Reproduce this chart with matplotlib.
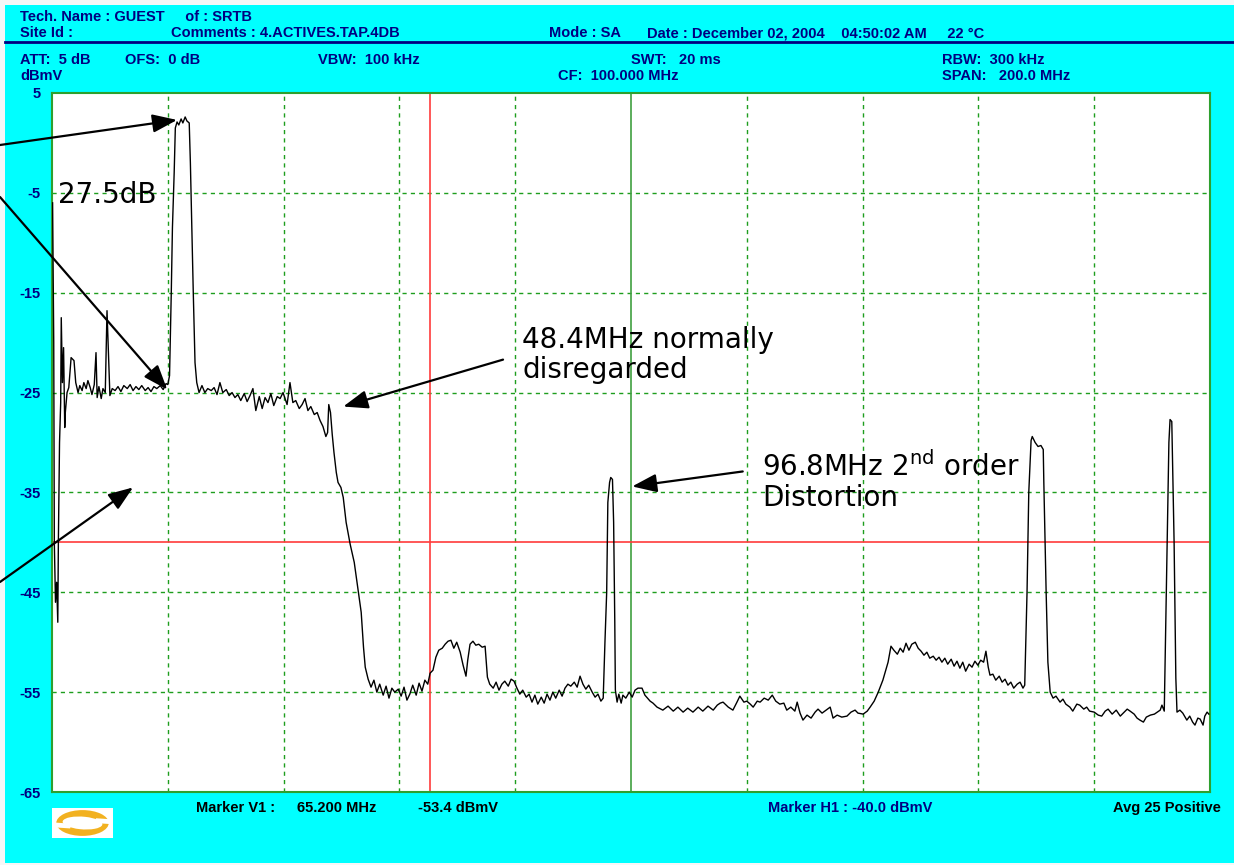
import matplotlib
matplotlib.use("Agg")
import matplotlib.pyplot as plt
import matplotlib.patches as patches

# trace (frequency in MHz, level in dBmV)
trace_mhz = [
    0.1, 0.3, 0.4, 0.6, 0.8, 1.0, 1.1, 1.3, 1.5, 1.6, 1.8, 2.0, 2.2, 2.3, 2.6, 2.9,
    3.3, 3.8, 4.1, 4.5, 4.8, 5.2, 5.5, 5.9, 6.2, 6.6, 6.9, 7.3, 7.6, 7.8, 8.1, 8.5,
    8.8, 9.2, 9.5, 9.8, 10.0, 10.4, 10.9, 11.4, 11.9, 12.4, 13.0, 13.5, 14.0, 14.5,
    15.0, 15.5, 16.1, 16.6, 17.1, 17.6, 18.1, 18.7, 19.2, 19.7, 20.0, 20.3, 20.6,
    20.8, 21.1, 21.3, 21.6, 21.9, 22.3, 22.6, 23.0, 23.3, 23.7, 23.9, 24.2, 24.4,
    24.7, 25.0, 25.4, 25.9, 26.4, 26.9, 27.5, 28.0, 28.5, 29.0, 29.5, 30.1, 30.6,
    31.1, 31.6, 32.1, 32.6, 33.2, 33.7, 34.2, 34.7, 35.2, 35.8, 36.3, 36.8, 37.3,
    37.8, 38.3, 38.9, 39.4, 39.9, 40.6, 41.1, 41.6, 42.1, 42.7, 43.2, 43.7, 44.2,
    44.7, 45.3, 45.8, 46.3, 46.8, 47.3, 47.6, 47.8, 48.1, 48.4, 48.7, 49.1, 49.4,
    49.9, 50.3, 50.8, 51.5, 52.2, 52.8, 53.4, 53.8, 54.1, 54.6, 55.1, 55.6, 56.1,
    56.6, 57.2, 57.7, 58.2, 58.7, 59.2, 59.8, 60.3, 60.8, 61.3, 61.8, 62.3, 62.9,
    63.4, 63.9, 64.4, 64.9, 65.3, 65.8, 66.3, 66.8, 67.4, 67.9, 68.4, 68.9, 69.4,
    69.9, 70.5, 71.0, 71.5, 71.8, 72.2, 72.7, 73.2, 73.7, 74.3, 74.8, 75.2, 75.6,
    76.2, 76.7, 77.2, 77.7, 78.2, 78.8, 79.3, 79.8, 80.3, 80.8, 81.3, 81.9, 82.4,
    82.9, 83.4, 83.9, 84.5, 85.0, 85.5, 86.0, 86.5, 87.0, 87.6, 88.1, 88.6, 89.1,
    89.6, 90.2, 90.7, 91.2, 91.7, 92.2, 92.7, 93.3, 93.8, 94.3, 94.8, 95.2, 95.5,
    95.8, 96.0, 96.3, 96.5, 96.8, 97.0, 97.2, 97.3, 97.6, 97.9, 98.3, 98.6, 99.1,
    99.7, 100.2, 100.7, 101.2, 101.9, 102.4, 103.3, 103.8, 104.5, 105.5, 106.4,
    107.3, 108.1, 109.0, 109.8, 110.7, 111.6, 112.4, 113.3, 114.2, 114.9, 115.4,
    115.9, 116.8, 117.6, 118.3, 118.8, 119.5, 120.0, 120.6, 121.1, 121.8, 122.3,
    123.0, 123.7, 124.4, 125.0, 125.7, 126.4, 126.9, 127.6, 128.3, 128.7, 129.2,
    129.7, 130.4, 131.1, 131.8, 132.3, 133.0, 133.7, 134.4, 134.9, 135.6, 136.4,
    137.3, 138.0, 138.7, 139.2, 140.1, 140.8, 141.3, 142.0, 142.7, 143.5, 144.4,
    144.9, 145.4, 146.0, 146.5, 147.0, 147.5, 148.0, 148.5, 149.1, 149.6, 150.1,
    150.6, 151.1, 151.6, 152.2, 152.7, 153.2, 153.7, 154.2, 154.7, 155.3, 155.8,
    156.3, 156.8, 157.3, 157.8, 158.4, 158.9, 159.4, 159.9, 160.4, 160.9, 161.3,
    161.7, 162.0, 162.5, 163.0, 163.6, 164.1, 164.6, 165.1, 165.6, 166.1, 166.7,
    167.2, 167.7, 168.0, 168.4, 168.7, 169.1, 169.3, 169.8, 170.3, 170.8, 171.2,
    171.3, 171.7, 172.0, 172.4, 172.9, 173.4, 174.1, 174.6, 175.1, 175.8, 176.3,
    177.0, 177.5, 178.2, 178.7, 179.2, 180.0, 180.7, 181.3, 181.9, 182.4, 183.1,
    183.8, 184.5, 185.2, 185.7, 186.2, 186.9, 187.4, 187.9, 188.5, 189.0, 189.7,
    190.4, 190.9, 191.4, 191.7, 192.1, 192.2, 192.6, 192.9, 193.1, 193.4, 193.8,
    194.1, 194.3, 194.8, 195.3, 196.0, 196.5, 197.0, 197.4, 197.9, 198.3, 198.8,
    199.1, 199.5, 199.8,
]
trace_dbmv = [
    -6, -20, -40, -46, -44, -48, -40, -30, -26, -17.5, -24, -20.5, -28.5, -27, -25, -24.5,
    -21.5, -21.8, -24, -25, -24.3, -24.8, -24, -24.6, -23.8, -24.5, -25.2, -24.2, -21, -25.5, -24.4, -25.6,
    -24.6, -25, -16.8, -22, -25.3, -24.6, -24.8, -24.4, -24.9, -24.3, -24.6, -24.2, -24.8, -24.4,
    -24.7, -24.3, -24.8, -24.5, -24.9, -24.4, -24.6, -24.3, -24.7, -24.1, -24.2, -23.3, -15,
    -8.5, -3, 1.5, 2.1, 1.8, 2.4, 2.0, 2.6, 2.2, 2.0, -2, -10, -15,
    -22, -24, -25, -24.3, -25, -24.6, -24.8, -24.5, -25.2, -24, -25, -24.7, -25.3,
    -25, -25.5, -25.2, -25.8, -25.1, -25.9, -25.3, -24.6, -26.8, -25.4, -26.6, -25.5, -26.0,
    -25.1, -26.3, -25.4, -25.6, -25.0, -26.2, -24.0, -26.0, -25.8, -26.6, -26.2, -25.6, -26.8,
    -26.4, -27.2, -27.0, -27.8, -28.4, -29.4, -29.0, -26.2, -27, -29.2, -31, -33, -34,
    -34.5, -35.5, -38, -40.2, -42, -44.5, -47, -50.5, -52.5, -53.7, -54.5, -53.8, -55,
    -54.2, -55.3, -54.4, -55.6, -54.6, -55.0, -54.7, -55.4, -54.5, -55.8, -55.2, -54.3, -55.3,
    -54.1, -54.9, -53.8, -54.2, -53.1, -52.8, -51.5, -50.8, -50.6, -50.2, -49.9, -49.8, -50.6,
    -50.0, -51.0, -52.3, -53.4, -51.8, -50.2, -49.9, -50.3, -50.2, -50.5, -50.4, -53.5, -54.2,
    -54.6, -54.0, -54.8, -54.2, -53.9, -54.4, -53.7, -53.9, -54.6, -55.2, -54.8, -55.5, -55.2,
    -56.0, -55.3, -56.2, -55.5, -56.1, -55.2, -55.8, -55.0, -55.6, -54.8, -55.4, -54.6, -54.2,
    -54.4, -54.0, -54.5, -53.4, -54.2, -54.7, -54.3, -55.0, -55.5, -55.2, -55.9, -55.6, -50,
    -45, -36, -34, -33.5, -33.7, -38, -48, -54.8, -56.0, -55.2, -56.1, -55.3, -55.6,
    -55.0, -55.5, -54.8, -54.6, -54.6, -55.3, -55.9, -56.1, -56.5, -56.8, -56.4,
    -56.9, -56.5, -57.0, -56.6, -57.0, -56.5, -56.9, -56.4, -56.8, -56.3, -56.1,
    -56.0, -56.5, -56.8, -56.0, -55.4, -56.0, -55.9, -56.2, -56.5, -55.9, -56.0,
    -55.6, -55.8, -55.3, -55.9, -56.2, -56.1, -56.8, -56.5, -56.9, -56.0, -57.1,
    -57.8, -57.3, -57.6, -57.0, -56.7, -57.1, -56.8, -56.5, -57.6, -57.3, -57.5,
    -57.4, -57.0, -56.8, -57.1, -57.2, -56.9, -56.5, -55.9, -55.0, -53.8, -52,
    -50.4, -50.8, -51.2, -50.6, -51.0, -50.1, -50.8, -50.2, -50.0, -50.6, -50.9,
    -51.3, -51.0, -51.6, -51.4, -51.8, -51.5, -52.0, -51.6, -52.2, -51.7, -52.4,
    -51.9, -52.6, -52.0, -52.9, -52.2, -52.5, -51.9, -52.3, -51.8, -52.0, -50.9,
    -52.5, -53.3, -53.2, -53.8, -53.4, -54.0, -53.7, -54.3, -54.0, -54.6, -54.2,
    -54.0, -54.6, -54.3, -45, -35, -29.8, -29.4, -30.0, -30.4, -30.3, -30.7,
    -34, -45, -52, -55, -55.6, -55.4, -56.0, -55.7, -56.2, -56.5, -56.9,
    -56.2, -56.3, -56.7, -56.5, -56.9, -57.0, -57.3, -57.4, -56.9, -56.7, -57.2,
    -56.8, -57.4, -57.0, -56.7, -56.9, -57.2, -57.6, -57.8, -58.0, -57.5, -57.3,
    -57.2, -57.0, -56.8, -56.3, -56.9, -53.6, -40, -30, -27.7, -27.9, -40,
    -53.6, -57.0, -56.8, -57.1, -57.8, -57.4, -58.0, -58.3, -57.6, -57.7, -58.3,
    -57.4, -57.0, -57.2,
]

y_ticks = [5, -5, -15, -25, -35, -45, -55, -65]
x_grid_mhz = [20, 40, 60, 80, 120, 140, 160, 180]
marker_v1_mhz = 65.2
marker_h1_dbmv = -40.0
center_mhz = 100.0

CYAN = "#00FFFF"
NAVY = "#000080"
GRID_GREEN = "#1E9E1E"
LOGO = "#F2B120"

W, H = 1234, 865
fig = plt.figure(figsize=(W / 100, H / 100), dpi=100, facecolor="#F7F7F7")


def fx(x):
    return x / W


def fy(y):
    return 1 - y / H


# cyan screen background
fig.patches.append(patches.Rectangle((fx(5), fy(863)), fx(W - 5), (858) / H,
                                     transform=fig.transFigure, facecolor=CYAN,
                                     edgecolor="none", zorder=-10))
fig.add_artist(plt.Line2D([fx(5), 1], [fy(42), fy(42)], color=NAVY, lw=2,
                          transform=fig.transFigure, zorder=-5))

hdr = dict(color=NAVY, fontsize=10.5, fontweight="bold", va="center",
           family=["Liberation Sans Narrow", "Liberation Sans", "DejaVu Sans"])
header_items = [
    (20, 17, "Tech. Name : GUEST     of : SRTB"),
    (20, 33, "Site Id :"),
    (171, 33, "Comments : 4.ACTIVES.TAP.4DB"),
    (549, 33, "Mode : SA"),
    (647, 33, "Date : December 02, 2004    04:50:02 AM     22 \u00b0C"),
    (20, 60, "ATT:  5 dB"),
    (125, 60, "OFS:  0 dB"),
    (318, 60, "VBW:  100 kHz"),
    (631, 60, "SWT:   20 ms"),
    (942, 60, "RBW:  300 kHz"),
    (20, 76, "dBmV"),
    (558, 76, "CF:  100.000 MHz"),
    (942, 76, "SPAN:   200.0 MHz"),
]
for x, y, s in header_items:
    fig.text(fx(x), fy(y), s, **hdr)

footer = dict(hdr)
footer["color"] = "black"
fig.text(fx(196), fy(808), "Marker V1 :", **footer)
fig.text(fx(297), fy(808), "65.200 MHz", **footer)
fig.text(fx(418), fy(808), "-53.4 dBmV", **footer)
fig.text(fx(768), fy(808), "Marker H1 : -40.0 dBmV", **hdr)
fig.text(fx(1113), fy(808), "Avg 25 Positive", **footer)

# logo: orange ring cut into two swooshes
lax = fig.add_axes([fx(52), fy(838), fx(61), 30 / H])
lax.set_facecolor("white")
lax.set_xlim(0, 1)
lax.set_ylim(0, 1)
lax.set_xticks([])
lax.set_yticks([])
for sp in lax.spines.values():
    sp.set_visible(False)
lax.add_patch(patches.Ellipse((0.5, 0.5), 0.86, 0.86, facecolor=LOGO, edgecolor="none"))
lax.add_patch(patches.Ellipse((0.5, 0.5), 0.66, 0.42, angle=-12,
                              facecolor="white", edgecolor="none"))
lax.add_patch(patches.Rectangle((0.0, 0.36), 0.3, 0.16, angle=-8,
                                facecolor="white", edgecolor="none"))
lax.add_patch(patches.Rectangle((0.7, 0.5), 0.3, 0.16, angle=-8,
                                facecolor="white", edgecolor="none"))

# plot area
ax = fig.add_axes([fx(52), fy(792), fx(1210 - 52), (792 - 93) / H])
ax.set_facecolor("white")
ax.set_xlim(0, 200)
ax.set_ylim(-65, 5)
for sp in ax.spines.values():
    sp.set_color("#2EA02E")
    sp.set_linewidth(1.5)

for f in x_grid_mhz:
    ax.axvline(f, color=GRID_GREEN, lw=1, ls=(0, (3, 3)), zorder=1)
for v in y_ticks[1:-1]:
    ax.axhline(v, color=GRID_GREEN, lw=1, ls=(0, (3, 3)), zorder=1)

ax.axvline(center_mhz, color="#3FA03F", lw=1.2, zorder=2)
ax.axvline(marker_v1_mhz, color="#FF3B3B", lw=1.2, zorder=2)
ax.axhline(marker_h1_dbmv, color="#FF3B3B", lw=1.2, zorder=2)

ax.plot(trace_mhz, trace_dbmv, color="black", lw=1.0, zorder=3)

ax.set_xticks([])
ax.set_yticks(y_ticks)
ax.set_yticklabels([str(t) for t in y_ticks], color=NAVY, fontweight="bold",
                   fontsize=10.5, family=["Liberation Sans Narrow", "Liberation Sans"])
ax.tick_params(axis="y", length=0, pad=8)

# annotations
note = dict(fontsize=20, color="black", family="DejaVu Sans")
ax.text(1.0, -6.0, "27.5dB", va="baseline", **note)
ax.text(81.2, -20.5, "48.4MHz normally", va="baseline", **note)
ax.text(81.2, -23.5, "disregarded", va="baseline", **note)
ax.text(122.6, -33.4, r"96.8MHz 2$^{\mathrm{nd}}$ order", va="baseline", **note)
ax.text(122.6, -36.4, "Distortion", va="baseline", **note)

arrow = dict(arrowstyle="-|>,head_length=0.75,head_width=0.28", color="black",
             lw=1.6, mutation_scale=20, shrinkA=0, shrinkB=0)
ax.annotate("", xy=(21.6, 2.3), xycoords="data",
            xytext=(0, fy(145)), textcoords="figure fraction", arrowprops=arrow)
ax.annotate("", xy=(19.9, -24.7), xycoords="data",
            xytext=(0, fy(197)), textcoords="figure fraction", arrowprops=arrow)
ax.annotate("", xy=(14.0, -34.5), xycoords="data",
            xytext=(0, fy(582)), textcoords="figure fraction", arrowprops=arrow)
ax.annotate("", xy=(50.3, -26.4), xycoords="data",
            xytext=(77.9, -21.7), textcoords="data", arrowprops=arrow)
ax.annotate("", xy=(100.2, -34.4), xycoords="data",
            xytext=(119.3, -32.9), textcoords="data", arrowprops=arrow)

fig.savefig("out.png", dpi=100, facecolor=fig.get_facecolor())
